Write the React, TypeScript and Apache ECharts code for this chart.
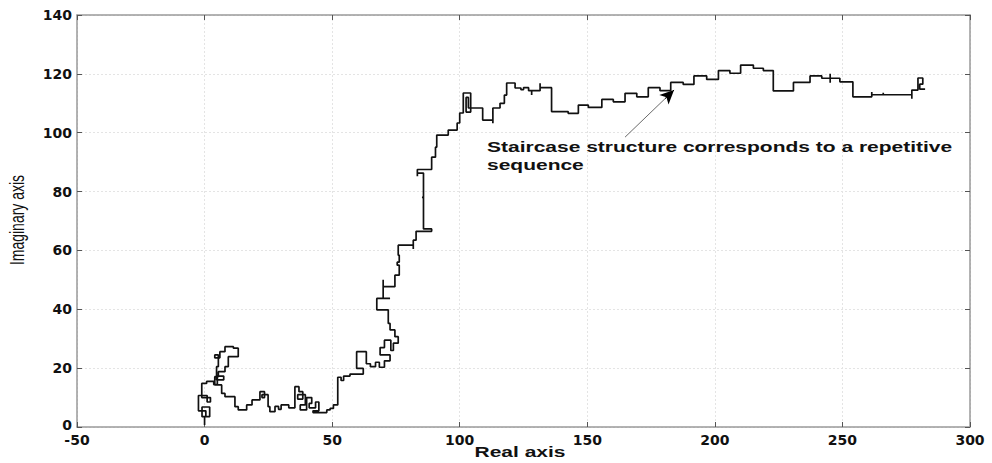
import React, { useEffect, useRef } from "react";
import * as echarts from "echarts";

// Trajectory of the walk in the complex plane (corner points of the staircase path)
const realPart = [
  0, 0, -1, -1, 2, 2, 0.5, 0.5, -2.4, -2.4, 1, 1, 2.3, 2.3, -1.1, -1.1, 0.8, 0.8, 3.6, 3.6,
  5, 5, 7.5, 7.5, 4.7, 4.7, 5.4, 5.4, 4, 4, 6, 6, 8, 8, 11.3, 11.3, 13.2, 13.2, 9.3, 9.3,
  8, 8, 5.4, 5.4, 4, 4, 6.7, 6.7, 8, 8, 11.9, 11.9, 13.2, 13.2, 16.5, 16.5, 18.6, 18.6, 21.7, 21.7,
  23.5, 23.5, 22.5, 22.5, 24.9, 24.9, 25.6, 25.6, 27.6, 27.6, 29, 29, 30, 30, 33, 33, 35.4, 35.4, 37, 37,
  38.5, 38.5, 36.5, 36.5, 39.5, 39.5, 37.5, 37.5, 40, 40, 42, 42, 41, 41, 43.5, 43.5, 44.8, 44.8, 42.5, 42.5,
  47.9, 47.9, 49.2, 49.2, 50.5, 50.5, 52.2, 52.2, 53.5, 53.5, 54.5, 54.5, 57, 57, 62.2, 62.2, 59.6, 59.6, 63.4, 63.4,
  65, 65, 67, 67, 68.5, 68.5, 70.5, 70.5, 72.7, 72.7, 68.8, 68.8, 70.5, 70.5, 73, 73, 74, 74, 75.9, 75.9,
  74.6, 74.6, 72.7, 72.7, 72, 72, 67.5, 67.5, 72.7, 70, 70, 70, 74.6, 74.6, 76.3, 76.3, 75.5, 75.5, 76.3, 76.3,
  75.9, 75.9, 81.8, 81.8, 81.8, 82.9, 82.9, 89, 89, 85.8, 85.8, 85.2, 85.8, 85.8, 83.4, 83.4, 83.4, 89, 89, 90.5,
  90.5, 91, 91, 95.5, 95.5, 99, 99, 100, 100, 101.4, 101.4, 104.3, 104.3, 102.5, 102.5, 103.4, 103.4, 109, 109, 113,
  113, 113, 115.8, 115.8, 117.5, 117.5, 118.4, 118.4, 121.7, 121.7, 124, 124, 125, 125, 127, 127, 128.2, 128.2, 128.2, 131.5,
  131.5, 131.5, 136, 136, 142.5, 142.5, 146.5, 146.5, 150.4, 150.4, 155.7, 155.7, 160.2, 160.2, 164.8, 164.8, 169.4, 169.4, 173.9, 173.9,
  178.5, 178.5, 182.7, 182.7, 187.6, 187.6, 191.8, 191.8, 196.8, 196.8, 201.4, 201.4, 205.9, 205.9, 210.1, 210.1, 215.1, 215.1, 219, 219,
  222.9, 222.9, 230.8, 230.8, 237.3, 237.3, 241.9, 241.9, 245.2, 245.2, 245.2, 245.2, 249, 249, 254.1, 254.1, 261.5, 261.5, 261.5, 266,
  266, 266, 277.2, 277.2, 277.2, 279.6, 279.6, 281.5, 281.5, 280.3, 280.3, 282.4,
];

const imagPart = [
  0.7, 3.5, 3.5, 6.8, 6.8, 3.5, 3.5, 5.5, 5.5, 10.7, 10.7, 8.5, 8.5, 10, 10, 14.8, 14.8, 15.5, 15.5, 14.4,
  14.4, 17.3, 17.3, 16, 16, 20.5, 20.5, 24.5, 24.5, 23.5, 23.5, 25.6, 25.6, 27.3, 27.3, 26.8, 26.8, 23.9, 23.9, 20.5,
  20.5, 18.8, 18.8, 17.1, 17.1, 14.3, 14.3, 11.4, 11.4, 10.3, 10.3, 6.9, 6.9, 5.8, 5.8, 7.5, 7.5, 9.2, 9.2, 12,
  12, 10, 10, 11, 11, 6.9, 6.9, 5.2, 5.2, 7, 7, 6, 6, 7.5, 7.5, 6.5, 6.5, 13.7, 13.7, 12,
  12, 9.5, 9.5, 11, 11, 7.5, 7.5, 5.8, 5.8, 10, 10, 8, 8, 6.5, 6.5, 8.5, 8.5, 5.5, 5.5, 4.9,
  4.9, 5.8, 5.8, 6.3, 6.3, 7.5, 7.5, 16.9, 16.9, 15.8, 15.8, 17.3, 17.3, 18, 18, 19.9, 19.9, 25.6, 25.6, 21.5,
  21.5, 20.5, 20.5, 22, 22, 20.3, 20.3, 22.5, 22.5, 24.5, 24.5, 27, 27, 29.5, 29.5, 26, 26, 28.5, 28.5, 30.7,
  30.7, 33, 33, 35.2, 35.2, 39.8, 39.8, 43.7, 43.7, 43.7, 50, 47.7, 47.7, 51.6, 51.6, 55, 55, 56, 56, 58.4,
  58.4, 61.8, 61.8, 60.5, 63.5, 63.5, 66.5, 66.5, 67.3, 67.3, 78, 78, 78, 86.3, 86.3, 85.2, 87.5, 87.5, 91.7, 91.7,
  95.1, 95.1, 99.2, 99.2, 100.9, 100.9, 103.3, 103.3, 106.7, 106.7, 113.5, 113.5, 107, 107, 112, 112, 108.4, 108.4, 104.3, 104.3,
  103.2, 108.4, 108.4, 110, 110, 112.8, 112.8, 116.9, 116.9, 115.2, 115.2, 114.6, 114.6, 115.3, 115.3, 114.3, 114.3, 112.8, 114.3, 114.3,
  116.8, 115.3, 115.3, 107.2, 107.2, 106.6, 106.6, 109.4, 109.4, 108.6, 108.6, 111.3, 111.3, 110.5, 110.5, 113.4, 113.4, 112.2, 112.2, 115.3,
  115.3, 114.3, 114.3, 117.1, 117.1, 116.4, 116.4, 119.3, 119.3, 118.1, 118.1, 121.1, 121.1, 120.2, 120.2, 123, 123, 121.9, 121.9, 121.1,
  121.1, 114.2, 114.2, 117.1, 117.1, 119.3, 119.3, 118.5, 118.5, 120, 117, 118.5, 118.5, 117.3, 117.3, 112.2, 112.2, 113.8, 112.9, 112.9,
  113.6, 112.9, 112.9, 111.5, 114.5, 114.5, 118.6, 118.6, 116.5, 116.5, 114.8, 114.8,
];

// Annotation pointing at the repetitive staircase segment
const noteText = "Staircase structure corresponds to a repetitive\nsequence";
const arrowTail = [164.8, 98.5];
const arrowHeadStart = [180.5, 111.6];
const arrowTip = [184, 114.5];

const xTickStep = 50;
const yTickStep = 20;

export default function App() {
  const ref = useRef<HTMLDivElement>(null);

  useEffect(() => {
    if (!ref.current) return;
    const chart = echarts.init(ref.current, null, { renderer: "svg" });

    const pathData = realPart.map((re, i) => [re, imagPart[i]]);

    const tickFont = {
      color: "#111",
      fontFamily: "DejaVu Sans",
      fontWeight: "bold" as const,
      fontSize: 14,
    };
    const frameLine = { show: true, onZero: false, lineStyle: { color: "#9a9a9a", width: 1.5 } };
    const innerTick = { show: true, inside: true, length: 5, lineStyle: { color: "#555", width: 1 } };
    const gridLine = { show: true, lineStyle: { color: "#e4e4e4", width: 1, type: [2, 2] as any } };

    chart.setOption({
      animation: false,
      backgroundColor: "#fff",
      grid: { left: 77, right: 22, top: 15, bottom: 36, containLabel: false },
      xAxis: [
        {
          type: "value",
          min: -50,
          max: 300,
          interval: xTickStep,
          position: "bottom",
          axisLine: frameLine,
          axisTick: innerTick,
          axisLabel: { ...tickFont, margin: 7, lineHeight: 12 },
          splitLine: gridLine,
        },
        {
          type: "value",
          min: -50,
          max: 300,
          interval: xTickStep,
          position: "top",
          axisLine: frameLine,
          axisTick: innerTick,
          axisLabel: { show: false },
          splitLine: { show: false },
        },
      ],
      yAxis: [
        {
          type: "value",
          min: 0,
          max: 140,
          interval: yTickStep,
          position: "left",
          axisLine: frameLine,
          axisTick: innerTick,
          axisLabel: {
            ...tickFont,
            margin: 5,
            lineHeight: 11,
            // the origin label sits a little higher so it clears the "-50" below it
            formatter: (v: number) => (v === 0 ? "{origin|0}" : String(v)),
            rich: {
              origin: { ...tickFont, lineHeight: 10, padding: [0, 0, 5, 0] },
            },
          },
          splitLine: gridLine,
        },
        {
          type: "value",
          min: 0,
          max: 140,
          interval: yTickStep,
          position: "right",
          axisLine: frameLine,
          axisTick: innerTick,
          axisLabel: { show: false },
          splitLine: { show: false },
        },
      ],
      series: [
        {
          type: "line",
          xAxisIndex: 0,
          yAxisIndex: 0,
          data: pathData,
          showSymbol: false,
          symbol: "none",
          lineStyle: { color: "#111", width: 1.7 },
          silent: true,
          markLine: {
            silent: true,
            symbol: ["none", "none"],
            label: { show: false },
            lineStyle: { color: "#6a6a6a", width: 1, type: "solid" },
            data: [
              [{ coord: arrowTail }, { coord: arrowTip }],
              [
                { coord: arrowHeadStart, lineStyle: { color: "#000", width: 1 } },
                { coord: arrowTip, symbol: "arrow", symbolSize: [10, 14] },
              ],
            ],
          },
        },
      ],
      graphic: [
        {
          type: "text",
          x: 487,
          y: 138,
          scaleX: 1.5,
          style: {
            text: noteText,
            font: 'bold 14px "Liberation Sans", Arial, sans-serif',
            fill: "#111",
            textVerticalAlign: "top",
            lineHeight: 18,
          },
        },
        {
          type: "text",
          x: 520,
          y: 452,
          scaleX: 1.5,
          style: {
            text: "Real axis",
            font: 'bold 14px "Liberation Sans", Arial, sans-serif',
            fill: "#111",
            textAlign: "center",
            textVerticalAlign: "middle",
          },
        },
        {
          type: "text",
          x: 18,
          y: 220,
          rotation: Math.PI / 2,
          scaleY: 1.4,
          style: {
            text: "Imaginary axis",
            font: '14px "Liberation Sans", Arial, sans-serif',
            fill: "#111",
            textAlign: "center",
            textVerticalAlign: "middle",
          },
        },
      ],
    });

    return () => chart.dispose();
  }, []);

  return (
    <div
      ref={ref}
      style={{ position: "absolute", left: 0, top: 0, width: 992, height: 463 }}
    />
  );
}
